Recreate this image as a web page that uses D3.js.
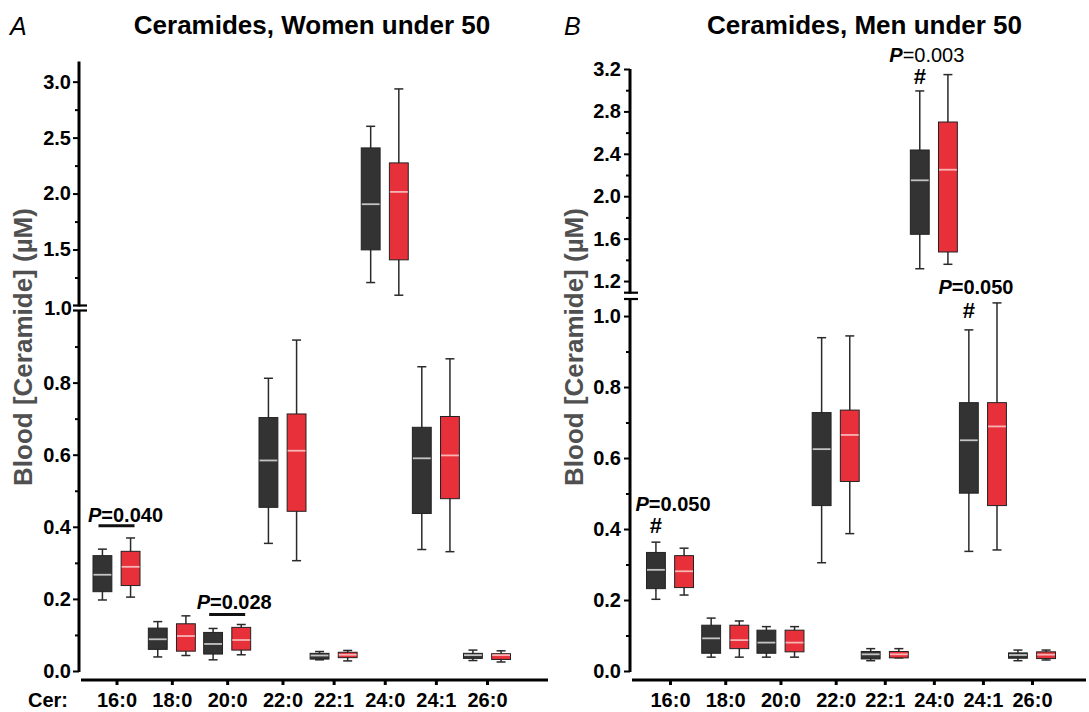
<!DOCTYPE html>
<html>
<head>
<meta charset="utf-8">
<script src="https://cdn.jsdelivr.net/npm/d3@7"></script>
<style>
body{margin:0;background:#fff}
svg{display:block;font-family:"Liberation Sans",Arial,sans-serif}
</style>
</head>
<body>
<svg id="chart" width="1089" height="712"></svg>
<script>
// categories (ceramide species)
const cats = ["16:0","18:0","20:0","22:0","22:1","24:0","24:1","26:0"];

// box summaries per category: [min, q1, median, q3, max]
const womenDark = [
  [0.197,0.220,0.267,0.320,0.338],
  [0.039,0.060,0.088,0.119,0.137],
  [0.031,0.047,0.075,0.107,0.118],
  [0.354,0.454,0.584,0.703,0.812],
  [0.031,0.033,0.043,0.049,0.054],
  [1.205,1.497,1.905,2.408,2.601],
  [0.337,0.437,0.590,0.676,0.844],
  [0.029,0.035,0.044,0.049,0.058]
];
const womenRed = [
  [0.205,0.237,0.289,0.332,0.369],
  [0.043,0.055,0.097,0.131,0.153],
  [0.045,0.058,0.086,0.121,0.129],
  [0.306,0.443,0.611,0.713,0.918],
  [0.028,0.037,0.045,0.052,0.057],
  [1.092,1.408,2.015,2.274,2.935],
  [0.331,0.478,0.598,0.706,0.866],
  [0.025,0.032,0.044,0.048,0.056]
];
const menDark = [
  [0.202,0.232,0.285,0.334,0.363],
  [0.039,0.050,0.092,0.129,0.149],
  [0.039,0.050,0.080,0.115,0.125],
  [0.305,0.466,0.625,0.728,0.939],
  [0.029,0.034,0.047,0.055,0.063],
  [1.316,1.641,2.150,2.436,2.993],
  [0.337,0.501,0.650,0.756,0.961],
  [0.029,0.036,0.045,0.051,0.059]
];
const menRed = [
  [0.214,0.235,0.281,0.325,0.346],
  [0.039,0.063,0.087,0.129,0.141],
  [0.039,0.054,0.080,0.115,0.125],
  [0.387,0.534,0.665,0.735,0.944],
  [0.037,0.037,0.047,0.055,0.063],
  [1.358,1.474,2.250,2.700,3.147],
  [0.341,0.466,0.689,0.756,1.037],
  [0.031,0.035,0.046,0.054,0.059]
];

// axis ticks
const womenLowTicks = [0,0.2,0.4,0.6,0.8];
const womenLowMinor = [0.1,0.3,0.5,0.7,0.9];
const womenUpTicks = [1.5,2.0,2.5,3.0];
const womenUpMinor = [1.25,1.75,2.25,2.75];
const menLowTicks = [0,0.2,0.4,0.6,0.8,1.0];
const menLowMinor = [0.1,0.3,0.5,0.7,0.9];
const menUpTicks = [1.2,1.6,2.0,2.4,2.8,3.2];
const menUpMinor = [1.4,1.8,2.2,2.6,3.0];

// significance notes
const womenNotes = [
  {cat:"16:0", p:"0.040", y:0.414, bar:0.403, dx:9},
  {cat:"20:0", p:"0.028", y:0.171, bar:0.157, dx:7}
];
const menNotes = [
  {cat:"16:0", p:"0.050", y:0.452, hash:0.389, dx:3, seg:"low"},
  {cat:"24:0", p:"0.003", y:3.269, hash:3.059, dx:-7, seg:"up", light:true},
  {cat:"24:1", p:"0.050", y:1.062, hash:0.994, dx:-7, seg:"low"}
];

const panels = [
  {letter:"A", title:"Ceramides, Women under 50", titleX:312, letterX:10,
   dark:womenDark, red:womenRed, axisX:79, labelX:32,
   xRange:[116.5,282.5,487], xEnd:548,
   low:{domain:[0,1.0], range:[671,310.5]}, up:{domain:[1.0,3.18], range:[305.5,61.5]},
   lowTicks:womenLowTicks, lowMinor:womenLowMinor, upTicks:womenUpTicks, upMinor:womenUpMinor,
   breakLabel:"1.0", cer:true, notes:womenNotes, pad:2},
  {letter:"B", title:"Ceramides, Men under 50", titleX:864.5, letterX:564,
   dark:menDark, red:menRed, axisX:630, labelX:583,
   xRange:[670,835.7,1032], xEnd:1086,
   low:{domain:[0,1.048], range:[671,299]}, up:{domain:[1.09,3.2], range:[292.7,69]},
   lowTicks:menLowTicks, lowMinor:menLowMinor, upTicks:menUpTicks, upMinor:menUpMinor,
   breakLabel:null, cer:false, notes:menNotes, pad:3}
];

const svg = d3.select("#chart");
const fmt = d3.format(".1f");
const darkFill = "#333333", redFill = "#e8303a";

panels.forEach(p => {
  const g = svg.append("g");
  const yLow = d3.scaleLinear().domain(p.low.domain).range(p.low.range);
  const yUp = d3.scaleLinear().domain(p.up.domain).range(p.up.range);
  // category index -> x; the source spacing narrows slightly to the right
  const xi = d3.scaleLinear().domain([0, 3, cats.length - 1]).range(p.xRange);
  const x = c => xi(cats.indexOf(c));
  const sub = d3.scaleBand().domain(["dark","red"]).range([-23.5,23.5]).paddingInner(0.33);

  // titles
  g.append("text").attr("x", p.letterX).attr("y", 35)
    .attr("font-size", 25).attr("font-style","italic").text(p.letter);
  g.append("text").attr("x", p.titleX).attr("y", 34).attr("text-anchor","middle")
    .attr("font-size", 26).attr("font-weight","bold").text(p.title);

  // y label
  g.append("text").attr("transform", `translate(${p.labelX},347) rotate(-90)`)
    .attr("text-anchor","middle").attr("font-size",26).attr("font-weight","bold")
    .attr("fill","#505050").text("Blood [Ceramide] (µM)");

  // y axes (two segments)
  [[yLow,p.lowTicks,p.lowMinor],[yUp,p.upTicks,p.upMinor]].forEach(([sc,tk,mn]) => {
    const major = g.append("g").attr("transform",`translate(${p.axisX},0)`)
      .call(d3.axisLeft(sc).tickValues(tk).tickSize(6).tickSizeOuter(0).tickPadding(p.pad).tickFormat(fmt));
    const minor = g.append("g").attr("transform",`translate(${p.axisX},0)`)
      .call(d3.axisLeft(sc).tickValues(mn).tickSize(4).tickSizeOuter(0).tickFormat(""));
    [major,minor].forEach(a => {
      a.select(".domain").remove();
      a.selectAll("line").attr("stroke","#000").attr("stroke-width",2);
      a.selectAll("text").attr("font-size",20).attr("font-weight","bold")
        .attr("font-family","Liberation Sans, Arial, sans-serif").attr("fill","#000");
    });
    g.append("line").attr("x1",p.axisX).attr("x2",p.axisX)
      .attr("y1",sc.range()[0]+1).attr("y2",sc.range()[1])
      .attr("stroke","#000").attr("stroke-width",3);
  });
  // break marks
  [yLow.range()[1], yUp.range()[0]].forEach(yy => {
    g.append("line").attr("x1",p.axisX-6).attr("x2",p.axisX+8)
      .attr("y1",yy).attr("y2",yy).attr("stroke","#000").attr("stroke-width",2.2);
  });
  if (p.breakLabel) {
    g.append("text").attr("x",p.axisX-7).attr("y",(yLow.range()[1]+yUp.range()[0])/2)
      .attr("dy","0.35em").attr("text-anchor","end")
      .attr("font-size",20).attr("font-weight","bold").text(p.breakLabel);
  }

  // x axis
  const xa = g.append("g").attr("transform","translate(0,680)")
    .call(d3.axisBottom(xi).tickValues(d3.range(cats.length)).tickFormat(i => cats[i])
      .tickSize(5).tickSizeOuter(0).tickPadding(8));
  xa.select(".domain").remove();
  xa.selectAll("line").attr("stroke","#000").attr("stroke-width",3);
  xa.selectAll("text").attr("font-size",20).attr("font-weight","bold")
    .attr("font-family","Liberation Sans, Arial, sans-serif").attr("fill","#000");
  g.append("line").attr("x1",p.axisX+2).attr("x2",p.xEnd).attr("y1",680).attr("y2",680)
    .attr("stroke","#000").attr("stroke-width",3);
  if (p.cer) {
    g.append("text").attr("x",28).attr("y",707).attr("font-size",20)
      .attr("font-weight","bold").text("Cer:");
  }

  // boxes
  const rows = [];
  cats.forEach((c,i) => {
    rows.push({cat:c, grp:"dark", v:p.dark[i]});
    rows.push({cat:c, grp:"red", v:p.red[i]});
  });
  const bw = sub.bandwidth();
  const box = g.selectAll(".box").data(rows).join("g").attr("class","box")
    .attr("transform", d => `translate(${x(d.cat)+sub(d.grp)},0)`);
  box.each(function(d) {
    const s = d.v[0] > p.low.domain[1] ? yUp : yLow;
    const b = d3.select(this);
    const wc = "#2a2a2a";
    b.append("line").attr("x1",bw/2).attr("x2",bw/2).attr("y1",s(d.v[0])).attr("y2",s(d.v[4]))
      .attr("stroke",wc).attr("stroke-width",1.5);
    [d.v[0], d.v[4]].forEach(v => {
      b.append("line").attr("x1",bw/2-4.5).attr("x2",bw/2+4.5).attr("y1",s(v)).attr("y2",s(v))
        .attr("stroke",wc).attr("stroke-width",1.5);
    });
    b.append("rect").attr("x",0).attr("width",bw)
      .attr("y",s(d.v[3])).attr("height",Math.max(1,s(d.v[1])-s(d.v[3])))
      .attr("fill", d.grp==="dark" ? darkFill : redFill)
      .attr("stroke","#222").attr("stroke-width",1);
    b.append("line").attr("x1",0.5).attr("x2",bw-0.5).attr("y1",s(d.v[2])).attr("y2",s(d.v[2]))
      .attr("stroke", d.grp==="dark" ? "#c4c4c4" : "#f7b4b4").attr("stroke-width",1.8);
  });

  // notes
  p.notes.forEach(n => {
    const s = n.seg==="up" ? yUp : yLow;
    const t = g.append("text").attr("x",x(n.cat)+n.dx).attr("y",s(n.y))
      .attr("text-anchor","middle").attr("font-size",20).attr("font-weight","bold");
    t.append("tspan").attr("font-style","italic").text("P");
    t.append("tspan").attr("font-weight", n.light ? "normal" : "bold").text("=" + n.p);
    if (n.bar !== undefined) {
      g.append("line").attr("x1",x(n.cat)-18).attr("x2",x(n.cat)+18)
        .attr("y1",s(n.bar)).attr("y2",s(n.bar)).attr("stroke","#111").attr("stroke-width",3);
    }
    if (n.hash !== undefined) {
      g.append("text").attr("x",x(n.cat)+sub("dark")+bw/2).attr("y",s(n.hash))
        .attr("text-anchor","middle").attr("font-size",22).attr("font-weight","bold").text("#");
    }
  });
});
</script>
</body>
</html>
